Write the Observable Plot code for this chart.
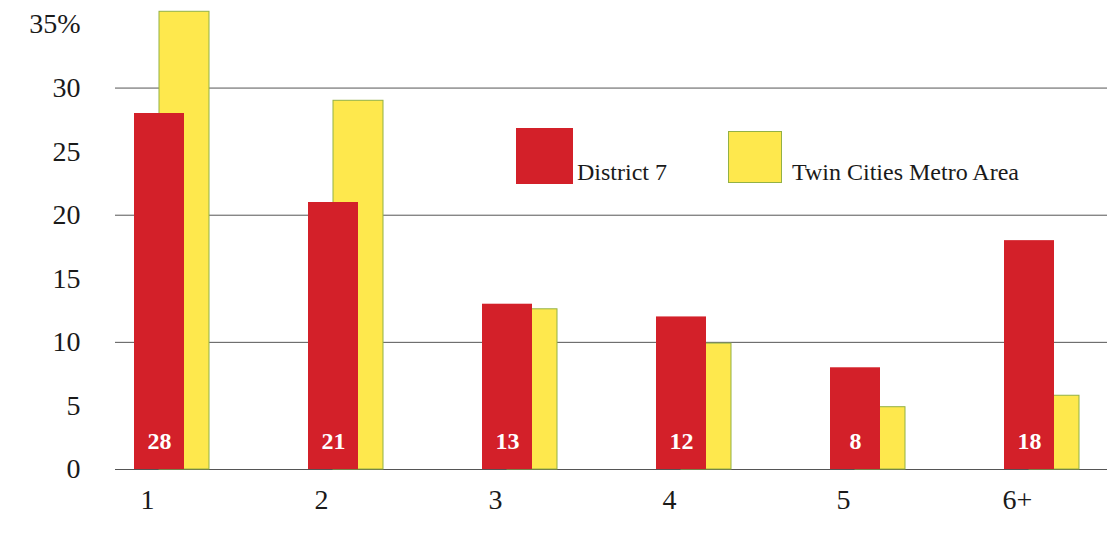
<!DOCTYPE html>
<html>
<head>
<meta charset="utf-8">
<script src="https://cdn.jsdelivr.net/npm/d3@7"></script>
<script src="https://cdn.jsdelivr.net/npm/@observablehq/plot@0.6"></script>
<style>
  html, body { margin: 0; padding: 0; background: #fff; }
  #chart { position: relative; width: 1107px; height: 536px; font-family: "Liberation Serif", "DejaVu Serif", serif; }
  #chart svg { display: block; }
  .legend-swatch { position: absolute; box-sizing: border-box; }
  .legend-label { position: absolute; font-size: 24px; line-height: 24px; color: #1a1a1a; white-space: nowrap; }
</style>
</head>
<body>
<div id="chart"></div>
<script>
// Household size categories and share of households (%)
const categories = ["1", "2", "3", "4", "5", "6+"];
const district7 = [28, 21, 13, 12, 8, 18];
const metroArea = [36, 29, 12.6, 9.9, 4.9, 5.8];
const seriesNames = ["District 7", "Twin Cities Metro Area"];
const yTicks = [0, 5, 10, 15, 20, 25, 30, 35];
const gridValues = [0, 10, 20, 30];

const redFill = "#D32029";
const yellowFill = "#FEE84D";
const yellowStroke = "#93B145";

const rows = categories.map((c, i) => ({category: c, district: district7[i], metro: metroArea[i]}));

const chart = Plot.plot({
  width: 1107,
  height: 536,
  marginLeft: 115,
  marginRight: 0,
  marginTop: 24,
  marginBottom: 67,
  style: {fontFamily: "'Liberation Serif', 'DejaVu Serif', serif", background: "#fff", color: "#1a1a1a"},
  x: {type: "band", domain: categories, range: [134, 1055], paddingInner: 0.713, paddingOuter: 0, align: 0},
  y: {domain: [0, 35]},
  marks: [
    Plot.ruleY(gridValues, {stroke: "#555", strokeWidth: 1}),
    Plot.axisY(yTicks, {
      tickSize: 0, tickPadding: 35, fontSize: 28, label: null,
      tickFormat: d => d === 35 ? "35%" : String(d)
    }),
    // metro area bars sit behind, shifted right of the district bars
    Plot.barY(rows, {x: "category", y: "metro", fill: yellowFill, stroke: yellowStroke, strokeWidth: 1, dx: 25}),
    Plot.barY(rows, {x: "category", y: "district", fill: redFill}),
    Plot.text(rows, {
      x: "category", y: 0, text: d => String(d.district),
      dy: -21, lineAnchor: "bottom", fill: "white", fontWeight: "bold", fontSize: 24
    }),
    Plot.axisX({tickSize: 0, tickPadding: 20, fontSize: 28, dx: -12, label: null})
  ]
});

const container = document.getElementById("chart");
container.appendChild(chart);

// legend entries drawn over the plot area
const legendItems = [
  {name: seriesNames[0], fill: redFill, border: "none", box: [516, 128, 57, 56], text: [577, 160]},
  {name: seriesNames[1], fill: yellowFill, border: `1px solid ${yellowStroke}`, box: [728, 131, 54, 52], text: [792, 160]}
];
for (const item of legendItems) {
  const sw = document.createElement("div");
  sw.className = "legend-swatch";
  Object.assign(sw.style, {
    left: item.box[0] + "px", top: item.box[1] + "px",
    width: item.box[2] + "px", height: item.box[3] + "px",
    background: item.fill, border: item.border
  });
  container.appendChild(sw);
  const lb = document.createElement("div");
  lb.className = "legend-label";
  lb.textContent = item.name;
  Object.assign(lb.style, {left: item.text[0] + "px", top: item.text[1] + "px"});
  container.appendChild(lb);
}
</script>
</body>
</html>
